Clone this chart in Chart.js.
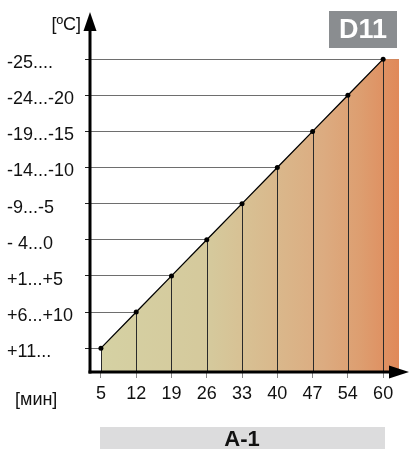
<!DOCTYPE html>
<html>
<head>
<meta charset="utf-8">
<script src="https://cdn.jsdelivr.net/npm/chart.js@4"></script>
<style>
  html, body { margin: 0; padding: 0; background: #fff; }
  canvas { display: block; }
</style>
</head>
<body>
<canvas id="chart" width="409" height="449"></canvas>
<script>
// x categories (minutes)
const minutes = ['5', '12', '19', '26', '33', '40', '47', '54', '60'];
// y categories (temperature bands), bottom to top
const tempBands = ['+11...', '+6...+10', '+1...+5', '- 4...0', '-9...-5', '-14...-10', '-19...-15', '-24...-20', '-25....'];
// band reached at each minute
const bandAtMinute = ['+11...', '+6...+10', '+1...+5', '- 4...0', '-9...-5', '-14...-10', '-19...-15', '-24...-20', '-25....'];

const font = "'Liberation Sans', Arial, sans-serif";

let gradCache = null;
function fillGradient(chart) {
  const area = chart.chartArea;
  const xs = chart.scales.x;
  const x0 = xs ? xs.getPixelForValue(0) : NaN;
  if (!area || !isFinite(x0) || !isFinite(area.right)) return '#d8c090';
  const key = x0 + ':' + area.right;
  if (gradCache && gradCache.key === key) return gradCache.g;
  const g = chart.ctx.createLinearGradient(x0, 0, area.right, 0);
  g.addColorStop(0, '#d5d1a3');
  g.addColorStop(0.37, '#d5c99c');
  g.addColorStop(0.5, '#d8bf92');
  g.addColorStop(0.75, '#dcab80');
  g.addColorStop(0.87, '#dd9e70');
  g.addColorStop(1, '#e0895a');
  gradCache = { key, g };
  return g;
}

const decor = {
  id: 'decor',
  beforeDatasetsDraw(chart) {
    // fill continues past the last point to the right edge
    const { ctx, chartArea } = chart;
    const pts = chart.getDatasetMeta(0).data;
    const last = pts[pts.length - 1];
    ctx.save();
    ctx.fillStyle = fillGradient(chart);
    ctx.fillRect(last.x, last.y, chartArea.right - last.x, chartArea.bottom - last.y);
    ctx.restore();
  },
  beforeDatasetDraw(chart) {
    // drop lines from each point to the x axis
    const { ctx, chartArea } = chart;
    ctx.save();
    ctx.strokeStyle = '#2a2a2a';
    ctx.lineWidth = 1;
    chart.getDatasetMeta(0).data.forEach(p => {
      const x = Math.round(p.x) + 0.5;
      ctx.beginPath();
      ctx.moveTo(x, p.y);
      ctx.lineTo(x, chartArea.bottom);
      ctx.stroke();
    });
    ctx.restore();
  },
  afterDraw(chart) {
    const { ctx, chartArea } = chart;
    const ax = chartArea.left, ay = chartArea.bottom;
    ctx.save();
    ctx.fillStyle = '#000';
    ctx.strokeStyle = '#000';
    ctx.lineWidth = 3;
    // y axis with arrow
    ctx.beginPath();
    ctx.moveTo(ax, ay + 1.5);
    ctx.lineTo(ax, 28);
    ctx.stroke();
    ctx.beginPath();
    ctx.moveTo(ax, 12);
    ctx.lineTo(ax - 6.5, 31);
    ctx.lineTo(ax + 6.5, 31);
    ctx.closePath();
    ctx.fill();
    // x axis with arrow
    ctx.beginPath();
    ctx.moveTo(ax - 1.5, ay);
    ctx.lineTo(392, ay);
    ctx.stroke();
    ctx.beginPath();
    ctx.moveTo(409, ay);
    ctx.lineTo(389, ay - 6.5);
    ctx.lineTo(389, ay + 6.5);
    ctx.closePath();
    ctx.fill();

    // axis units
    ctx.fillStyle = '#111';
    ctx.font = '18px ' + font;
    ctx.textBaseline = 'middle';
    ctx.textAlign = 'right';
    ctx.fillText('[ºC]', 81, 25);
    ctx.textAlign = 'left';
    ctx.fillText('[мин]', 15, 400);

    // D11 badge
    ctx.fillStyle = '#8a8d90';
    ctx.fillRect(329, 11, 68, 37);
    ctx.fillStyle = '#fff';
    ctx.font = 'bold 27px ' + font;
    ctx.textAlign = 'center';
    ctx.fillText('D11', 363, 31);

    // A-1 bar
    ctx.fillStyle = '#dcdcdd';
    ctx.fillRect(100, 427, 285, 22);
    ctx.fillStyle = '#111';
    ctx.font = 'bold 22px ' + font;
    ctx.textBaseline = 'alphabetic';
    ctx.fillText('A-1', 242, 446);
    ctx.restore();
  }
};

new Chart(document.getElementById('chart'), {
  type: 'line',
  data: {
    datasets: [{
      data: bandAtMinute.map((b, i) => ({ x: i, y: tempBands.indexOf(b) })),
      borderColor: '#000',
      borderWidth: 1.3,
      backgroundColor: c => fillGradient(c.chart),
      fill: 'start',
      tension: 0,
      pointRadius: 2.5,
      pointBackgroundColor: '#000',
      pointBorderWidth: 0
    }]
  },
  options: {
    responsive: false,
    animation: false,
    events: [],
    layout: { padding: { left: 7, right: 10, top: 23, bottom: 0 } },
    plugins: { legend: { display: false }, tooltip: { enabled: false } },
    scales: {
      x: {
        type: 'linear',
        min: -0.31,
        max: 8.45,
        afterBuildTicks: s => { s.ticks = minutes.map((_, i) => ({ value: i })); },
        afterFit: s => { s.height = 77; },
        ticks: {
          callback: v => minutes[v],
          autoSkip: false,
          maxRotation: 0,
          padding: 5,
          color: '#111',
          font: { family: font, size: 18 }
        },
        grid: { drawOnChartArea: false, tickLength: 6, color: '#888' },
        border: { display: false }
      },
      y: {
        type: 'linear',
        min: -0.66,
        max: 9,
        afterBuildTicks: s => { s.ticks = tempBands.map((_, i) => ({ value: i })); },
        afterFit: s => { s.width = 83; },
        ticks: {
          callback: v => tempBands[v],
          crossAlign: 'far',
          labelOffset: 4,
          color: '#111',
          font: { family: font, size: 18 }
        },
        grid: { color: '#6e6e6e', lineWidth: 1, tickLength: 5, tickColor: '#222' },
        border: { display: false }
      }
    }
  },
  plugins: [decor]
});
</script>
</body>
</html>
